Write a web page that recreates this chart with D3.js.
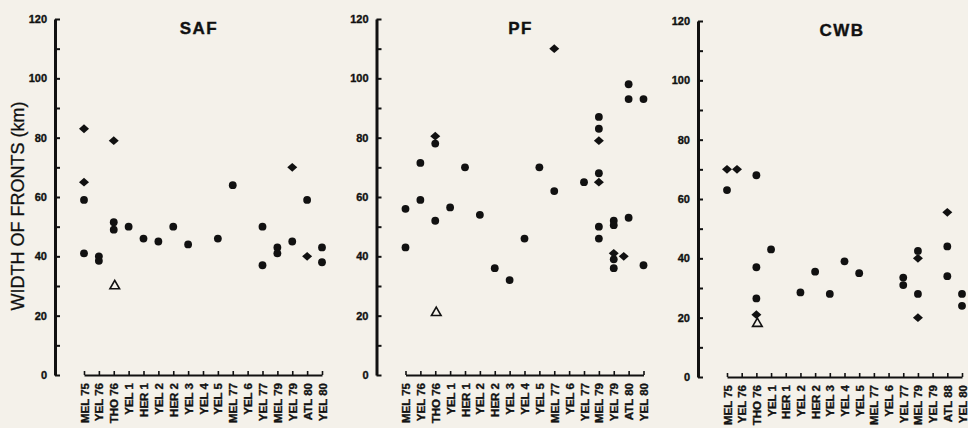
<!DOCTYPE html>
<html>
<head>
<meta charset="utf-8">
<script src="https://cdn.jsdelivr.net/npm/d3@7"></script>
<style>
  html, body { margin: 0; padding: 0; background: #f4f1ea; }
  svg { display: block; }
  text { font-family: 'Liberation Sans', Arial, Helvetica, sans-serif; fill: #111; }
</style>
</head>
<body>
<div id="chart"></div>
<script>
// cruise / station categories along each x axis
const categories = ['MEL 75', 'YEL 76', 'THO 76', 'YEL 1', 'HER 1', 'YEL 2', 'HER 2', 'YEL 3', 'YEL 4',
  'YEL 5', 'MEL 77', 'YEL 6', 'YEL 77', 'MEL 79', 'YEL 79', 'ATL 80', 'YEL 80'];
const cwbLabels = ['MEL 75', 'YEL 76', 'THO 76', 'YEL 1', 'HER 1', 'YEL 2', 'HER 2', 'YEL 3', 'YEL 4',
  'YEL 5', 'MEL 77', 'YEL 6', 'YEL 77', 'MEL 79', 'YEL 79', 'ATL 88', 'YEL 80'];
const yTicks = [0, 10, 20, 30, 40, 50, 60, 70, 80, 90, 100, 110, 120];
const panelNames = ['SAF', 'PF', 'CWB'];

// [category, width km]
const safCircles = [['MEL 75', 59], ['MEL 75', 41], ['YEL 76', 40], ['YEL 76', 38.5], ['THO 76', 51.5],
  ['THO 76', 49], ['YEL 1', 50], ['HER 1', 46], ['YEL 2', 45], ['HER 2', 50], ['YEL 3', 44], ['YEL 5', 46],
  ['MEL 77', 64], ['YEL 77', 50], ['YEL 77', 37], ['MEL 79', 43], ['MEL 79', 41], ['YEL 79', 45],
  ['ATL 80', 59], ['YEL 80', 43], ['YEL 80', 38]];
const safDiamonds = [['MEL 75', 83], ['MEL 75', 65], ['THO 76', 79], ['YEL 79', 70], ['ATL 80', 40]];
const safTriangles = [['THO 76', 30]];

const pfCircles = [['MEL 75', 56], ['MEL 75', 43], ['YEL 76', 71.5], ['YEL 76', 59], ['THO 76', 78],
  ['THO 76', 52], ['YEL 1', 56.5], ['HER 1', 70], ['YEL 2', 54], ['HER 2', 36], ['YEL 3', 32], ['YEL 4', 46],
  ['YEL 5', 70], ['MEL 77', 62], ['YEL 77', 65], ['MEL 79', 87], ['MEL 79', 83], ['MEL 79', 68],
  ['MEL 79', 50], ['MEL 79', 46], ['YEL 79', 52], ['YEL 79', 50.5], ['YEL 79', 39], ['YEL 79', 36],
  ['ATL 80', 98], ['ATL 80', 93], ['ATL 80', 53], ['YEL 80', 93], ['YEL 80', 37]];
const pfDiamonds = [['THO 76', 80.5], ['MEL 77', 110], ['MEL 79', 79], ['MEL 79', 65], ['YEL 79', 41], ['YEL 79', 40]];
const pfTriangles = [['THO 76', 21]];

const cwbCircles = [['MEL 75', 63], ['THO 76', 68], ['THO 76', 37], ['THO 76', 26.5], ['YEL 1', 43],
  ['YEL 2', 28.5], ['HER 2', 35.5], ['YEL 3', 28], ['YEL 4', 39], ['YEL 5', 35], ['YEL 77', 33.5],
  ['YEL 77', 31], ['MEL 79', 42.5], ['MEL 79', 28], ['ATL 80', 44], ['ATL 80', 34], ['YEL 80', 28], ['YEL 80', 24]];
const cwbDiamonds = [['MEL 75', 70], ['MEL 75', 70], ['THO 76', 21], ['MEL 79', 40], ['MEL 79', 20], ['ATL 80', 55.5]];
const cwbTriangles = [['THO 76', 18]];

const panels = [
  { name: panelNames[0], labels: categories, circles: safCircles, diamonds: safDiamonds, triangles: safTriangles },
  { name: panelNames[1], labels: categories, circles: pfCircles, diamonds: pfDiamonds, triangles: pfTriangles },
  { name: panelNames[2], labels: cwbLabels, circles: cwbCircles, diamonds: cwbDiamonds, triangles: cwbTriangles },
];

const width = 968, height = 428;
const svg = d3.select('#chart').append('svg')
  .attr('width', width)
  .attr('height', height);
svg.append('rect').attr('width', width).attr('height', height).attr('fill', '#f4f1ea');

svg.append('text')
  .attr('transform', 'translate(18,206) rotate(-90)')
  .attr('text-anchor', 'middle')
  .attr('dominant-baseline', 'central')
  .style('font-size', '18px')
  .style('stroke', '#111')
  .style('stroke-width', 0.3)
  .text('WIDTH OF FRONTS (km)');

const diamondPath = 'M0,-4.4L5,0L0,4.4L-5,0Z';
const trianglePath = d3.symbol(d3.symbolTriangle, 40)();

panels.forEach((p, i) => {
  const axisX = 55 + i * 321.5;
  const top = 19 + (i === 2 ? 2 : 0);
  const bottom = top + 356;
  // last panel is squeezed a touch so its final label stays on the page
  const span = i === 2 ? 264 : 267;

  const y = d3.scaleLinear().domain([0, 120]).range([bottom, top]);
  const x = d3.scalePoint().domain(categories).range([axisX + 29, axisX + span]);

  const g = svg.append('g');

  // y axis: ticks point inward, labels only every 20
  const yAxis = g.append('g')
    .attr('transform', `translate(${axisX},0)`)
    .call(d3.axisLeft(y).tickValues(yTicks).tickSize(-5).tickSizeOuter(0).tickPadding(8)
      .tickFormat(d => d % 20 === 0 ? d : ''));
  yAxis.select('.domain').attr('stroke', '#111').attr('stroke-width', 3);
  yAxis.selectAll('.tick line').attr('stroke', '#111').attr('stroke-width', 2);
  yAxis.selectAll('.tick text')
    .style('font-size', '11px').style('font-weight', 'bold')
    .style('stroke', '#111').style('stroke-width', 0.35)
    .attr('fill', '#111');

  // x axis: small upward ticks, rotated labels below
  const xAxis = g.append('g')
    .attr('transform', `translate(0,${bottom})`)
    .call(d3.axisBottom(x).tickSize(-4).tickSizeOuter(0)
      .tickFormat((d, j) => p.labels[j]));
  xAxis.select('.domain').attr('stroke', '#111').attr('stroke-width', 2.2);
  xAxis.selectAll('.tick line').attr('stroke', '#111').attr('stroke-width', 1.6);
  xAxis.selectAll('.tick text')
    .attr('transform', 'rotate(-90)')
    .attr('text-anchor', 'end')
    .attr('x', -8)
    .attr('y', 0)
    .attr('dy', '0.35em')
    .style('font-size', '11.5px')
    .style('font-weight', 'bold')
    .style('stroke', '#111').style('stroke-width', 0.35)
    .attr('fill', '#111');

  g.append('text')
    .attr('x', axisX + 144)
    .attr('y', top + 15)
    .attr('text-anchor', 'middle')
    .style('font-size', '17px')
    .style('font-weight', 'bold')
    .style('letter-spacing', '1.5px')
    .style('stroke', '#111').style('stroke-width', 0.4)
    .text(p.name);

  g.selectAll('circle.pt')
    .data(p.circles)
    .join('circle')
    .attr('class', 'pt')
    .attr('cx', d => x(d[0]))
    .attr('cy', d => y(d[1]))
    .attr('r', 3.9)
    .attr('fill', '#111');

  // diamonds that sit on top of another diamond get nudged right
  const placed = [];
  const diamonds = p.diamonds.map(d => {
    const clash = placed.some(q => q[0] === d[0] && Math.abs(q[1] - d[1]) < 1.5);
    placed.push(d);
    return { cat: d[0], v: d[1], dx: clash ? 10 : 0 };
  });
  g.selectAll('path.dia')
    .data(diamonds)
    .join('path')
    .attr('class', 'dia')
    .attr('d', diamondPath)
    .attr('transform', d => `translate(${x(d.cat) + d.dx},${y(d.v)})`)
    .attr('fill', '#111');

  g.selectAll('path.tri')
    .data(p.triangles)
    .join('path')
    .attr('class', 'tri')
    .attr('d', trianglePath)
    .attr('transform', d => `translate(${x(d[0]) + 1},${y(d[1])})`)
    .attr('fill', 'none')
    .attr('stroke', '#111')
    .attr('stroke-width', 1.6);
});
</script>
</body>
</html>
